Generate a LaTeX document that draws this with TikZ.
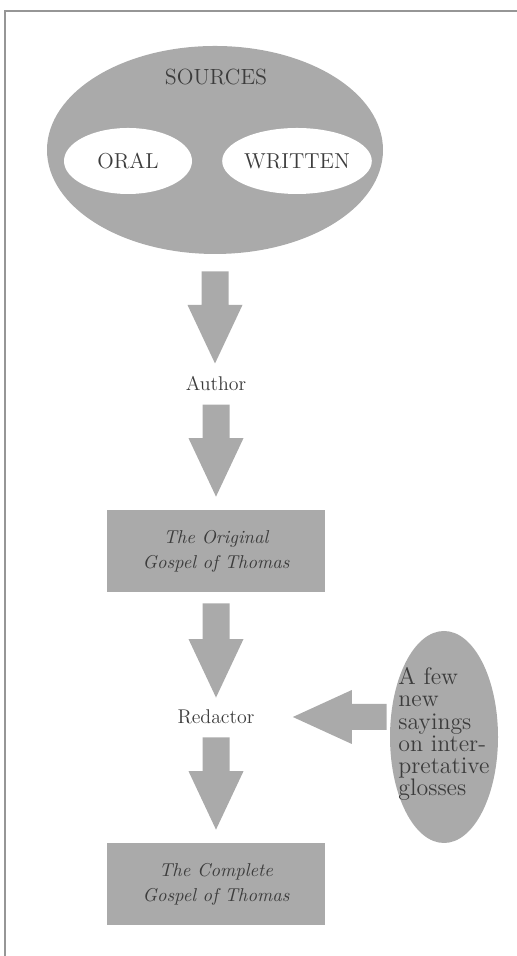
\documentclass[tikz,border=0pt]{standalone}
\usetikzlibrary{shapes.geometric,calc}
\definecolor{boxgray}{RGB}{170,170,170}
\definecolor{inkgray}{RGB}{60,60,60}
\definecolor{framegray}{RGB}{150,150,150}
\tikzset{
  blob/.style={ellipse,fill=boxgray,inner sep=0pt},
  hole/.style={ellipse,fill=white,inner sep=0pt,minimum width=2.56cm,minimum height=1.32cm,font=\fontsize{12.3}{13}\selectfont},
  gospel/.style={rectangle,fill=boxgray,inner sep=0pt,minimum width=4.36cm,minimum height=1.64cm,align=center,font=\fontsize{10.6}{14.2}\selectfont\itshape},
  who/.style={inner sep=0pt,font=\fontsize{11.3}{13}\selectfont},
}
% fat grey arrow pointing down, from #1 to the tip #2
\newcommand{\fatdown}[2]{%
  \fill[boxgray] let \p1=(#1), \p2=(#2) in
    (\x1-0.27cm,\y1) -- (\x1+0.27cm,\y1) -- (\x1+0.27cm,\y2+1.17cm) -- (\x1+0.55cm,\y2+1.17cm)
    -- (\x1,\y2) -- (\x1-0.55cm,\y2+1.17cm) -- (\x1-0.27cm,\y2+1.17cm) -- cycle;}
\begin{document}
\begin{tikzpicture}[every node/.style={text=inkgray}]
  \useasboundingbox (0,0) rectangle (10.34,19.12);
  \draw[framegray,line width=0.8pt] (0.10,0) -- (0.10,18.90) -- (10.34,18.90);
  % sources
  \node[blob,minimum width=6.72cm,minimum height=4.16cm] (src) at (4.30,16.12) {};
  \node[who,font=\fontsize{12.5}{13}\selectfont] (srclabel) at (4.32,17.58) {SOURCES};
  \node[hole] (oral) at (2.56,15.90) {ORAL};
  \node[hole] (written) at (5.94,15.90) {WRITTEN};
  % chain
  \node[who] (author) at (4.32,11.44) {Author};
  \node[gospel] (original) at (4.32,8.10) {The Original\\Gospel of Thomas};
  \node[who] (redactor) at (4.32,4.78) {Redactor};
  \node[gospel] (complete) at (4.32,1.44) {The Complete\\Gospel of Thomas};
  % new sayings
  \node[blob,minimum width=2.16cm,minimum height=4.24cm] (sayings) at (8.88,4.38) {};
  \node[inner sep=0pt,anchor=west,align=left,font=\fontsize{13.6}{12.6}\selectfont] (sayingstext) at (7.96,4.44)
    {A few\\new\\sayings\\on inter-\\pretative\\glosses};
  % arrows
  \fatdown{$(src.south)+(0,-0.34)$}{$(author.north)+(0,0.26)$}
  \fatdown{$(author.south)+(0,-0.26)$}{$(original.north)+(0,0.26)$}
  \fatdown{$(original.south)+(0,-0.22)$}{$(redactor.north)+(0,0.24)$}
  \fatdown{$(redactor.south)+(0,-0.26)$}{$(complete.north)+(0,0.26)$}
  \fill[boxgray] let \p1=($(sayings.west)+(-0.06,0)$), \p2=($(redactor.east)+(0.76,0)$) in
    (\x1,\y2+0.26cm) -- (\x1,\y2-0.26cm) -- (\x2+1.18cm,\y2-0.26cm) -- (\x2+1.18cm,\y2-0.54cm)
    -- (\x2,\y2) -- (\x2+1.18cm,\y2+0.54cm) -- (\x2+1.18cm,\y2+0.26cm) -- cycle;
\end{tikzpicture}
\end{document}
